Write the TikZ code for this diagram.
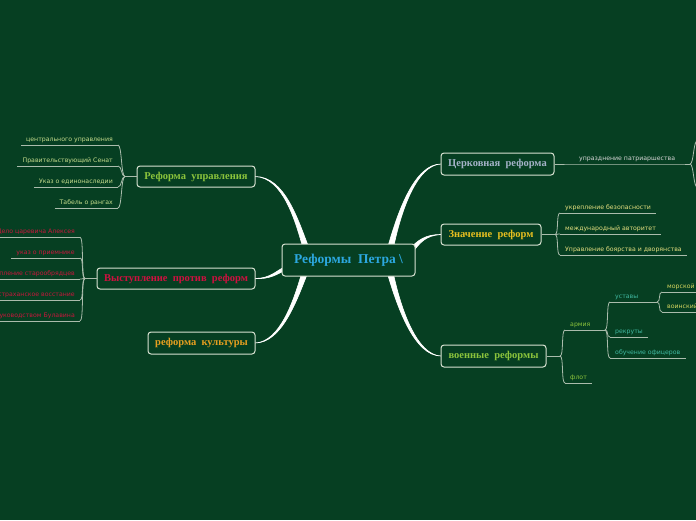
\documentclass[tikz,border=0pt]{standalone}
\usepackage{fontspec}
\setmainfont{Liberation Serif}
\newfontfamily\labfont{DejaVu Sans}
\usetikzlibrary{calc}
\definecolor{bg}{RGB}{6,63,34}
\definecolor{boxline}{RGB}{216,226,210}
\definecolor{subline}{RGB}{170,188,172}
\definecolor{cblue}{RGB}{44,168,224}
\definecolor{tgreen}{RGB}{140,196,60}
\definecolor{tred}{RGB}{208,16,64}
\definecolor{torange}{RGB}{232,160,32}
\definecolor{tgrayblue}{RGB}{164,178,200}
\definecolor{tgold}{RGB}{232,192,32}
\definecolor{lgreen}{RGB}{197,220,140}
\definecolor{lred}{RGB}{200,22,60}
\definecolor{lgray}{RGB}{214,214,214}
\definecolor{lyellow}{RGB}{229,224,128}
\definecolor{lteal}{RGB}{64,184,160}
\definecolor{lyg}{RGB}{214,214,96}
\begin{document}
\begin{tikzpicture}[x=1pt,y=-1pt,
  box/.style={draw=boxline, line width=1pt, rounded corners=3pt, fill=bg, inner sep=0pt,
    font=\bfseries\fontsize{10.5}{12}\selectfont},
  lbl/.style={font=\labfont\fontsize{6.2}{7}\selectfont, inner xsep=5pt, inner ysep=2.5pt},
  lblL/.style={lbl, anchor=south east},
  lblR/.style={lbl, anchor=south west},
  sub/.style={draw=subline, line width=0.8pt},
  br/.style={fill=white, draw=white, line width=0.6pt}]
\useasboundingbox (0,0) rectangle (696,520);
\fill[bg] (0,0) rectangle (696,520);
\clip (0,0) rectangle (696,520);

% coordinates for nodes
\coordinate (pC) at (348.5,260);

% main tapered branches
\coordinate (eru) at (306,248);
\fill[br] (255,176.5) .. controls (285,176.5) and (298,220) .. ($(eru)+(3,0)$) -- ($(eru)-(3,0)$) .. controls (295,220) and (283,177.5) .. (255,176.5);
\coordinate (erk) at (305,272);
\fill[br] (255,343) .. controls (282,343) and (297,300) .. ($(erk)+(3,0)$) -- ($(erk)-(3,0)$) .. controls (294,300) and (280,342) .. (255,343);
\coordinate (evp) at (286,268);
\fill[br] (255,278.5) .. controls (270,278.5) and (276,271) .. ($(evp)+(0,-2)$) -- ($(evp)+(0,2)$) .. controls (277,274) and (270,279.5) .. (255,278.5);
\coordinate (ecr) at (390,250);
\fill[br] (441,164) .. controls (415,164) and (398,210) .. ($(ecr)-(3,0)$) -- ($(ecr)+(3,0)$) .. controls (401,210) and (417,165) .. (441,164);
\coordinate (ezr) at (410,252);
\fill[br] (441,234.5) .. controls (425,234.5) and (418,240) .. ($(ezr)+(-1.5,-2)$) -- ($(ezr)+(1.5,2)$) .. controls (420,242) and (426,235.5) .. (441,234.5);
\coordinate (evr) at (390,272);
\fill[br] (441,356) .. controls (415,356) and (398,310) .. ($(evr)-(3,0)$) -- ($(evr)+(3,0)$) .. controls (401,310) and (417,355) .. (441,356);

% center
\node[box, minimum width=133pt, minimum height=32pt, text=cblue,
  font=\bfseries\fontsize{13.5}{15}\selectfont] (C) at (pC) {Реформы\ \ Петра \textbackslash};

% topics
\node[box, minimum width=118pt, minimum height=21pt, text=tgreen] (ru) at (196,176.5) {Реформа\ \ управления};
\node[box, minimum width=158pt, minimum height=21pt, text=tred] (vp) at (176,278.5) {Выступление\ \ против\ \ реформ};
\node[box, minimum width=107pt, minimum height=22pt, text=torange] (rk) at (201.5,343) {реформа\ \ культуры};
\node[box, minimum width=113pt, minimum height=22pt, text=tgrayblue] (cr) at (497.5,164) {Церковная\ \ реформа};
\node[box, minimum width=100pt, minimum height=21pt, text=tgold] (zr) at (491,234.5) {Значение\ \ реформ};
\node[box, minimum width=105pt, minimum height=22pt, text=tgreen] (vr) at (493.5,356) {военные\ \ реформы};

% --- Реформа управления
\coordinate (jru) at (125,176.5);
\draw[sub] (ru.west) -- (jru);
\node[lblL, text=lgreen] (ru1) at (118,145) {центрального управления};
\node[lblL, text=lgreen] (ru2) at (118,166) {Правительствующий Сенат};
\node[lblL, text=lgreen] (ru3) at (118,187) {Указ о единонаследии};
\node[lblL, text=lgreen] (ru4) at (118,208) {Табель о рангах};
\foreach \n in {ru1,ru2,ru3,ru4}{
  \draw[sub] (\n.south west) -- (\n.south east);
  \draw[sub] (jru) .. controls +(-4,0) and +(4,0) .. (\n.south east);
}

% --- Выступление против реформ
\coordinate (jvp) at (85,278.5);
\draw[sub] (vp.west) -- (jvp);
\node[lblL, text=lred] (vp1) at (80,237) {Дело царевича Алексея};
\node[lblL, text=lred] (vp2) at (80,258) {указ о приемнике};
\node[lblL, text=lred] (vp3) at (80,279) {Выступление старообрядцев};
\node[lblL, text=lred] (vp4) at (80,300) {Астраханское восстание};
\node[lblL, text=lred] (vp5) at (80,321) {Восстание под руководством Булавина};
\foreach \n in {vp1,vp2,vp3,vp4,vp5}{
  \draw[sub] (\n.south west) -- (\n.south east);
  \draw[sub] (jvp) .. controls +(-4,0) and +(4,0) .. (\n.south east);
}

% --- Церковная реформа
\node[lblR, text=lgray] (cr1) at (574,164) {упразднение патриаршества};
\coordinate (jcr) at (690,164);
\coordinate (cra) at (698,140);
\coordinate (crb) at (698,188);
\draw[sub] (cr.east) -- (cr1.south west) -- (cr1.south east) -- (jcr);
\draw[sub] (jcr) .. controls +(4,0) and +(-5,0) .. (cra);
\draw[sub] (jcr) .. controls +(4,0) and +(-5,0) .. (crb);

% --- Значение реформ
\coordinate (jzr) at (555,234.5);
\draw[sub] (zr.east) -- (jzr);
\node[lblR, text=lyellow] (zr1) at (560,213) {укрепление безопасности};
\node[lblR, text=lyellow] (zr2) at (560,234) {международный авторитет};
\node[lblR, text=lyellow] (zr3) at (560,255) {Управление боярства и дворянства};
\foreach \n in {zr1,zr2,zr3}{
  \draw[sub] (\n.south west) -- (\n.south east);
  \draw[sub] (jzr) .. controls +(4,0) and +(-4,0) .. (\n.south west);
}

% --- военные реформы
\coordinate (jvr) at (560,356);
\draw[sub] (vr.east) -- (jvr);
\node[lblR, text=tgreen] (vr1) at (565,330) {армия};
\node[lblR, text=tgreen] (vr2) at (565,383) {флот};
\foreach \n in {vr1,vr2}{
  \draw[sub] (\n.south west) -- (\n.south east);
  \draw[sub] (jvr) .. controls +(4,0) and +(-4,0) .. (\n.south west);
}
\coordinate (jar) at (605,330);
\draw[sub] (vr1.south east) -- (jar);
\node[lblR, text=lteal] (ar1) at (610,302) {уставы};
\node[lblR, text=lteal] (ar2) at (610,337) {рекруты};
\node[lblR, text=lteal] (ar3) at (610,358) {обучение офицеров};
\foreach \n in {ar1,ar2,ar3}{
  \draw[sub] (\n.south west) -- (\n.south east);
  \draw[sub] (jar) .. controls +(4,0) and +(-4,0) .. (\n.south west);
}
\coordinate (jus) at (657,302);
\draw[sub] (ar1.south east) -- (jus);
\node[lblR, text=lyg] (us1) at (662,292) {морской устав};
\node[lblR, text=lyg] (us2) at (662,312) {воинский устав};
\foreach \n in {us1,us2}{
  \draw[sub] (\n.south west) -- (\n.south east);
  \draw[sub] (jus) .. controls +(4,0) and +(-4,0) .. (\n.south west);
}
\end{tikzpicture}
\end{document}
